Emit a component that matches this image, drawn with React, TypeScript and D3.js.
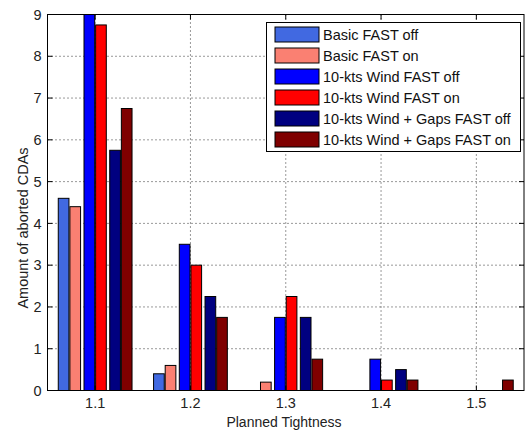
import React from "react";
import * as d3 from "d3";

// Planned tightness levels (x positions of the bar groups)
const tightness = [1.1, 1.2, 1.3, 1.4, 1.5];

// Aborted CDAs per scenario
const basicFastOff = [4.6, 0.4, 0, 0, 0];
const basicFastOn = [4.4, 0.6, 0.2, 0, 0];
const windFastOff = [9, 3.5, 1.75, 0.75, 0];
const windFastOn = [8.75, 3, 2.25, 0.25, 0];
const gapsFastOff = [5.75, 2.25, 1.75, 0.5, 0];
const gapsFastOn = [6.75, 1.75, 0.75, 0.25, 0.25];

const seriesNames = [
  "Basic FAST off",
  "Basic FAST on",
  "10-kts Wind FAST off",
  "10-kts Wind FAST on",
  "10-kts Wind + Gaps FAST off",
  "10-kts Wind + Gaps FAST on",
];
const seriesColors = ["#4169E1", "#FA8072", "#0000FF", "#FF0000", "#000080", "#7F0000"];
const seriesValues = [basicFastOff, basicFastOn, windFastOff, windFastOn, gapsFastOff, gapsFastOn];

const yTicks = [0, 1, 2, 3, 4, 5, 6, 7, 8, 9];
const xTickLabels = ["1.1", "1.2", "1.3", "1.4", "1.5"];

const W = 526;
const H = 430;
const left = 47.5;
const right = 524;
const top = 14.5;
const bottom = 390.5;

const FONT = "'Liberation Sans', Arial, Helvetica, sans-serif";

export default function App() {
  const x = d3.scaleLinear().domain([1.05, 1.55]).range([left, right]);
  const y = d3.scaleLinear().domain([0, 9]).range([bottom, top]);

  // Each scenario pair sits left of, on, or right of the tick; within a pair the
  // "off" bar is on the left and the "on" bar on the right.
  const pairOffset = 0.027;
  const slot = 0.0122;
  const barW = 0.0112;

  const bars: React.ReactNode[] = [];
  seriesValues.forEach((vals, si) => {
    const pair = Math.floor(si / 2);
    const within = si % 2 === 0 ? -0.5 : 0.5;
    vals.forEach((v, ci) => {
      if (v <= 0) return;
      const cx = tightness[ci] + (pair - 1) * pairOffset + within * slot;
      const x0 = x(cx - barW / 2);
      const x1 = x(cx + barW / 2);
      const yt = Math.max(y(v), top);
      bars.push(
        <rect
          key={`${si}-${ci}`}
          x={x0}
          y={yt}
          width={x1 - x0}
          height={bottom - yt}
          fill={seriesColors[si]}
          stroke="#000"
          strokeWidth={1}
        />
      );
    });
  });

  const gridStyle = { stroke: "#333", strokeWidth: 1, strokeDasharray: "1 3" };

  const legX = 266.5;
  const legY = 22.5;
  const legW = 254;
  const legH = 129;
  const rowH = 21;

  return (
    <svg
      width={W}
      height={H}
      style={{ position: "absolute", left: 0, top: 0, background: "#fff" }}
      fontFamily={FONT}
    >
      <rect x={0} y={0} width={W} height={H} fill="#fff" />
      {/* grid */}
      {yTicks.slice(1, -1).map((t) => (
        <line key={`gy${t}`} x1={left} x2={right} y1={y(t)} y2={y(t)} style={gridStyle} />
      ))}
      {tightness.map((t) => (
        <line key={`gx${t}`} x1={x(t)} x2={x(t)} y1={top} y2={bottom} style={gridStyle} />
      ))}
      {bars}
      {/* axes box */}
      <rect x={left} y={top} width={right - left} height={bottom - top} fill="none" stroke="#000" strokeWidth={1} />
      {/* ticks */}
      {yTicks.map((t) => (
        <g key={`ty${t}`}>
          <line x1={left} x2={left + 5} y1={y(t)} y2={y(t)} stroke="#000" />
          <line x1={right - 5} x2={right} y1={y(t)} y2={y(t)} stroke="#000" />
          <text x={41.5} y={y(t)} dy="0.36em" textAnchor="end" fontSize={14.5} fill="#222">
            {t}
          </text>
        </g>
      ))}
      {tightness.map((t, i) => (
        <g key={`tx${t}`}>
          <line x1={x(t)} x2={x(t)} y1={bottom} y2={bottom - 5} stroke="#000" />
          <line x1={x(t)} x2={x(t)} y1={top} y2={top + 5} stroke="#000" />
          <text x={x(t)} y={403} dy="0.36em" textAnchor="middle" fontSize={14.5} fill="#222">
            {xTickLabels[i]}
          </text>
        </g>
      ))}
      {/* axis labels */}
      <text x={284} y={421.5} dy="0.36em" textAnchor="middle" fontSize={14} fill="#222">
        Planned Tightness
      </text>
      <text
        transform={`translate(23,228) rotate(-90)`}
        textAnchor="middle"
        dy="0.36em"
        fontSize={14.5}
        fill="#222"
      >
        Amount of aborted CDAs
      </text>
      {/* legend */}
      <rect x={legX} y={legY} width={legW} height={legH} fill="#fff" stroke="#000" strokeWidth={1} />
      {seriesNames.map((name, i) => (
        <g key={name}>
          <rect
            x={275}
            y={legY + 4.5 + i * rowH}
            width={44}
            height={15}
            fill={seriesColors[i]}
            stroke="#000"
            strokeWidth={1}
          />
          <text x={323} y={legY + 12 + i * rowH} dy="0.36em" fontSize={14.5} fill="#111">
            {name}
          </text>
        </g>
      ))}
    </svg>
  );
}
